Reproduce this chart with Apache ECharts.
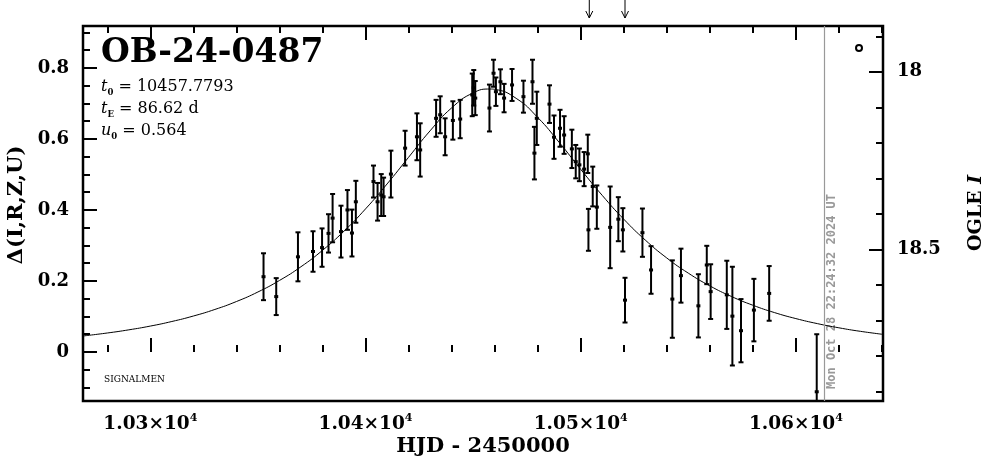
<!DOCTYPE html>
<html><head><meta charset="utf-8">
<script src="https://cdn.jsdelivr.net/npm/echarts@6/dist/echarts.min.js"></script>
<style>html,body{margin:0;padding:0;background:#fff}#c{width:986px;height:459px}</style>
</head><body><div id="c"></div><script>
// ---- data ----
const obsT = [10352.6,10358.5,10368.6,10375.6,10379.8,10382.8,10384.7,10388.6,10391.6,10393.7,
  10395.5,10403.7,10405.6,10407.3,10408.4,10411.8,10418.4,10423.9,10425.4,10432.8,
  10434.7,10437.0,10440.6,10444.0,10449.6,10450.3,10451.0,10457.6,10459.5,10460.6,
  10462.7,10464.4,10468.1,10473.4,10477.6,10478.5,10479.6,10485.5,10487.6,10490.4,
  10492.3,10495.9,10497.7,10499.4,10501.6,10503.3,10503.6,10505.6,10507.5,10513.7,
  10517.5,10519.6,10520.6,10528.7,10532.7,10542.6,10546.6,10554.7,10558.6,10560.4,
  10567.9,10570.5,10574.5,10580.5,10587.6,10609.7];
const obsD = [0.212,0.156,0.268,0.283,0.294,0.334,0.377,0.339,0.400,0.335,
  0.423,0.480,0.423,0.442,0.437,0.501,0.574,0.606,0.569,0.658,
  0.668,0.606,0.652,0.656,0.724,0.744,0.715,0.687,0.785,0.733,
  0.761,0.715,0.752,0.719,0.761,0.560,0.658,0.698,0.605,0.630,
  0.611,0.572,0.536,0.527,0.515,0.558,0.344,0.466,0.408,0.351,
  0.374,0.344,0.146,0.336,0.231,0.149,0.215,0.130,0.245,0.170,
  0.161,0.101,0.060,0.118,0.165,-0.112];
const obsErr = [0.066,0.052,0.069,0.057,0.054,0.054,0.068,0.073,0.056,0.066,
  0.059,0.045,0.053,0.059,0.054,0.066,0.049,0.066,0.075,0.052,
  0.052,0.052,0.054,0.054,0.060,0.050,0.048,0.066,0.038,0.040,
  0.035,0.040,0.045,0.045,0.062,0.074,0.075,0.053,0.061,0.052,
  0.053,0.054,0.047,0.046,0.048,0.054,0.059,0.056,0.061,0.115,
  0.062,0.061,0.063,0.068,0.067,0.109,0.076,0.089,0.054,0.077,
  0.096,0.139,0.089,0.088,0.077,0.162];
const modelT = [10268,10280,10290,10300,10310,10320,10330,10340,10350,10360,10370,10380,10390,10400,
  10410,10420,10430,10440,10450,10458,10460,10470,10480,10490,10500,10510,10520,10530,10540,
  10550,10560,10570,10580,10590,10600,10610,10620,10630,10642];
const modelD = [0.0446,0.0535,0.0624,0.0730,0.0859,0.1013,0.1198,0.1421,0.1690,0.2014,0.2401,0.2862,0.3403,0.4029,
  0.4731,0.5482,0.6228,0.6873,0.7297,0.7405,0.7396,0.7143,0.6606,0.5903,0.5145,0.4411,0.3741,0.3153,0.2648,
  0.2221,0.1863,0.1565,0.1317,0.1111,0.0941,0.0799,0.0681,0.0582,0.0485];
const xMajorTicks = [10300,10400,10500,10600];
const xMinorTicks = [10280,10300,10320,10340,10360,10380,10400,10420,10440,10460,10480,10500,10520,10540,10560,10580,10600,10620,10640];
const yMajorTicks = [0,0.2,0.4,0.6,0.8];
const yMinorTicks = [-0.1,-0.05,0,0.05,0.1,0.15,0.2,0.25,0.3,0.35,0.4,0.45,0.5,0.55,0.6,0.65,0.7,0.75,0.8,0.85,0.9];
const magMajorTicks = [18,18.5];
const magMinorTicks = [17.9,18.0,18.1,18.2,18.3,18.4,18.5,18.6,18.7,18.8,18.9];
const arrowT = [10504.0,10520.6];
const nowT = 10613.3;
const xRange = [10268.7,10640.5];
const yRange = [-0.138,0.918];
const magRange = [17.871,18.927];

// ---- chart ----
const chart = echarts.init(document.getElementById('c'), null, {renderer:'canvas'});
const FF = 'DejaVu Serif';
const tickStyle = {color:'#000', width:2};
function xAx(pos, major, labels){
  return {type:'value', position:pos, min:xRange[0], max:xRange[1],
    axisLine:{show:false}, splitLine:{show:false},
    axisTick:{show:true, inside:true, length:major?14:7, lineStyle:tickStyle, customValues: major?xMajorTicks:xMinorTicks},
    axisLabel: labels ? {show:true, customValues:xMajorTicks, margin:12,
      formatter: v => '{a|' + (v/1e4).toFixed(2) + '×10}{s|4}',
      rich:{a:{fontFamily:FF, fontWeight:'bold', fontSize:18.5, color:'#000', lineHeight:22},
            s:{fontFamily:FF, fontWeight:'bold', fontSize:11, color:'#000', verticalAlign:'top', lineHeight:22}}} : {show:false}};
}
function yAx(pos, major, labels, mag){
  return {type:'value', position:pos, min: mag?magRange[0]:yRange[0], max: mag?magRange[1]:yRange[1], inverse: !!mag,
    axisLine:{show:false}, splitLine:{show:false},
    axisTick:{show:true, inside:true, length:major?14:7, lineStyle:tickStyle,
      customValues: mag ? (major?magMajorTicks:magMinorTicks) : (major?yMajorTicks:yMinorTicks)},
    axisLabel: labels ? {show:true, customValues: mag?magMajorTicks:yMajorTicks, margin:14,
      fontFamily:FF, fontWeight:'bold', fontSize:18, color:'#000',
      formatter: v => mag ? String(v) : (v===0 ? '0' : v.toFixed(1))} : {show:false}};
}

function renderErr(params, api){
  const t = api.value(0), d = api.value(1), e = api.value(2);
  const cs = params.coordSys;
  const c = api.coord([t, d]);
  let top = api.coord([t, d + e])[1];
  let bot = api.coord([t, d - e])[1];
  const yT = cs.y, yB = cs.y + cs.height;
  const kids = [];
  const tc = Math.max(top, yT), bc = Math.min(bot, yB);
  kids.push({type:'line', shape:{x1:c[0], y1:tc, x2:c[0], y2:bc}, style:{stroke:'#000', lineWidth:2}});
  if (top >= yT) kids.push({type:'line', shape:{x1:c[0]-2.5, y1:top, x2:c[0]+2.5, y2:top}, style:{stroke:'#000', lineWidth:2}});
  if (bot <= yB) kids.push({type:'line', shape:{x1:c[0]-2.5, y1:bot, x2:c[0]+2.5, y2:bot}, style:{stroke:'#000', lineWidth:2}});
  kids.push({type:'rect', shape:{x:c[0]-2, y:c[1]-1.5, width:4, height:3}, style:{fill:'#000'}});
  return {type:'group', children:kids};
}

const obsData = obsT.map((t,i)=>[t, obsD[i], obsErr[i]]);
const modelData = modelT.map((t,i)=>[t, modelD[i]]);

const rich = {
  i:{fontFamily:FF, fontStyle:'italic', fontSize:16, color:'#000', lineHeight:20},
  b:{fontFamily:FF, fontSize:8.5, fontWeight:'bold', color:'#000', verticalAlign:'bottom', lineHeight:20},
  n:{fontFamily:FF, fontSize:16, color:'#000', lineHeight:20}
};

chart.setOption({
  animation:false,
  backgroundColor:'#fff',
  grid:{left:83, right:103, top:26, bottom:58, show:true, borderColor:'#000', borderWidth:2.5, backgroundColor:'transparent'},
  xAxis:[xAx('bottom',true,true), xAx('bottom',false,false), xAx('top',true,false), xAx('top',false,false)],
  yAxis:[yAx('left',true,true,false), yAx('left',false,false,false), yAx('right',true,true,true), yAx('right',false,false,true)],
  series:[
    {type:'line', data:modelData, smooth:true, showSymbol:false, symbol:'none', xAxisIndex:0, yAxisIndex:0,
     lineStyle:{color:'#000', width:1}, clip:true, silent:true,
     markLine:{silent:true, symbol:'none', label:{show:false}, lineStyle:{color:'#999', width:1.2, type:'solid'},
       data:[{xAxis:nowT}]}},
    {type:'custom', data:obsData, renderItem:renderErr, xAxisIndex:0, yAxisIndex:0, encode:{x:0, y:1}, clip:true, silent:true}
  ],
  graphic:[
    {type:'text', left:101, top:37, style:{text:'OB-24-0487', font:'bold 33px "DejaVu Serif"', fill:'#000'}},
    {type:'text', x:101, y:87, style:{text:'{i|t}{b|0}{n| = 10457.7793}', rich:rich, verticalAlign:'middle'}},
    {type:'text', x:101, y:109, style:{text:'{i|t}{b|E}{n| = 86.62 d}', rich:rich, verticalAlign:'middle'}},
    {type:'text', x:101, y:131, style:{text:'{i|u}{b|0}{n| = 0.564}', rich:rich, verticalAlign:'middle'}},
    {type:'text', x:104, y:380, style:{text:'SIGNALMEN', font:'9px "DejaVu Serif"', fill:'#000', verticalAlign:'middle'}},
    {type:'circle', shape:{cx:859, cy:48, r:3}, style:{fill:'none', stroke:'#000', lineWidth:2}},
    {type:'text', x:17, y:205, rotation:Math.PI/2, style:{text:'Δ(I,R,Z,U)', font:'bold 21px "DejaVu Serif"', fill:'#000', align:'center', verticalAlign:'middle'}},
    {type:'text', x:976, y:213, rotation:Math.PI/2, style:{text:'{r|OGLE }{it|I}', align:'center', verticalAlign:'middle',
      rich:{r:{fontFamily:FF, fontWeight:'bold', fontSize:19, color:'#000'}, it:{fontFamily:FF, fontWeight:'bold', fontStyle:'italic', fontSize:19, color:'#000'}}}},
    {type:'text', x:483, y:447, style:{text:'HJD - 2450000', font:'bold 21px "DejaVu Serif"', fill:'#000', align:'center', verticalAlign:'middle'}}
  ]
});

// overlays placed through the axis scale
const extra = [];
const nx = chart.convertToPixel({xAxisIndex:0}, nowT);
extra.push({type:'text', x:nx+7, y:389, rotation:Math.PI/2,
  style:{text:'Mon Oct 28 22:24:32 2024 UT', font:'bold 12px "DejaVu Sans Mono"', fill:'#999', align:'left', verticalAlign:'middle'}});
arrowT.forEach((t,i)=>{
  const ax = chart.convertToPixel({xAxisIndex:0}, t);
  extra.push({type:'line', shape:{x1:ax, y1:0, x2:ax, y2:18}, style:{stroke:'#000', lineWidth:1}});
  extra.push({type:'polyline', shape:{points:[[ax-3.5,11],[ax,18],[ax+3.5,11]]}, style:{stroke:'#000', fill:'none', lineWidth:1}});
});
const opt = chart.getOption();
chart.setOption({graphic: opt.graphic[0].elements.concat(extra)}, {replaceMerge:['graphic']});
</script></body></html>
